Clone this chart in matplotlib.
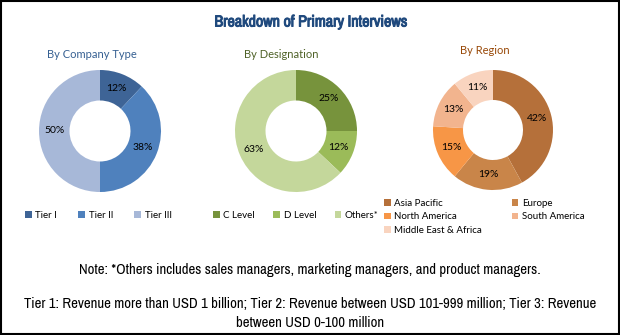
import matplotlib.pyplot as plt
import matplotlib.patheffects as pe
from matplotlib import font_manager
from matplotlib.patches import Patch, Rectangle

# data
company_labels = ['Tier I', 'Tier II', 'Tier III']
company_values = [12, 38, 50]
company_colors = ['#3E6496', '#4F81BD', '#A7B8D8']

designation_labels = ['C Level', 'D Level', 'Others*']
designation_values = [25, 12, 63]
designation_colors = ['#77933C', '#9BBB59', '#C4D79B']

region_labels = ['Asia Pacific', 'Europe', 'North America', 'South America', 'Middle East & Africa']
region_values = [42, 19, 15, 13, 11]
region_colors = ['#B5703A', '#C98549', '#F79646', '#F2B48E', '#F9D4BF']

W, H = 620, 335
fig = plt.figure(figsize=(W / 100, H / 100), dpi=100)

# pick a narrow face for the notes if there is one
names = {f.name for f in font_manager.fontManager.ttflist}
narrow_name = None
for n in sorted(names):
    if 'Narrow' in n or 'Condensed' in n:
        narrow_name = n
        break
if narrow_name:
    narrow = [narrow_name, 'DejaVu Sans']
    note_size, title_size = 10.6, 11.5
else:
    narrow = ['Liberation Sans', 'DejaVu Sans']
    note_size, title_size = 8.2, 10
calib = ['Lato', 'DejaVu Sans']


def donut(cx, cy, r, values, colors):
    ax = fig.add_axes([(cx - r) / W, (H - cy - r) / H, 2 * r / W, 2 * r / H])
    ax.pie(values, colors=colors, startangle=90, counterclock=False,
           radius=1, wedgeprops=dict(width=0.5, linewidth=0),
           autopct='%d%%', pctdistance=0.75,
           textprops=dict(fontsize=7.5, color='black', family=calib))
    ax.set_xlim(-1, 1)
    ax.set_ylim(-1, 1)
    ax.set_aspect('equal')
    ax.axis('off')
    return ax


donut(100, 131, 61, company_values, company_colors)
donut(296, 131, 61, designation_values, designation_colors)
donut(493, 130, 60, region_values, region_colors)

# titles
fig.text(311 / W, 1 - 22 / H, 'Breakdown of Primary Interviews', ha='center', va='center',
         fontsize=title_size, fontweight='bold', color='#1F497D', family=narrow,
         path_effects=[pe.withStroke(linewidth=0.7, foreground='#1F497D')])
fig.text(92 / W, 1 - 55 / H, 'By Company Type', ha='center', va='center',
         fontsize=8, color='#366092', family=calib)
fig.text(281 / W, 1 - 55 / H, 'By Designation', ha='center', va='center',
         fontsize=8, color='#4F6228', family=calib)
fig.text(485 / W, 1 - 51 / H, 'By Region', ha='center', va='center',
         fontsize=8, color='#984807', family=calib)


def legend(labels, colors, x, y, ncol, colsp, order=None):
    handles = [Patch(facecolor=c, edgecolor='none') for c in colors]
    if order:
        handles = [handles[i] for i in order]
        labels = [labels[i] for i in order]
    fig.legend(handles, labels, loc='upper left', bbox_to_anchor=(x / W, 1 - y / H),
               ncol=ncol, frameon=False, prop=dict(family=calib, size=7),
               handlelength=0.7, handleheight=0.7, handletextpad=0.35,
               columnspacing=colsp, labelspacing=0.45, borderpad=0, borderaxespad=0)


legend(company_labels, company_colors, 25, 211, 3, 2.2)
legend(designation_labels, designation_colors, 213, 211, 3, 1.9)
legend(region_labels, region_colors, 384, 199, 2, 3.05, order=[0, 2, 4, 1, 3])

# notes
fig.text(310 / W, 1 - 270 / H,
         'Note: *Others includes sales managers, marketing managers, and product managers.',
         ha='center', va='center', fontsize=note_size, family=narrow)
fig.text(310 / W, 1 - 304 / H,
         'Tier 1: Revenue more than USD 1 billion; Tier 2: Revenue between USD 101-999 million; Tier 3: Revenue',
         ha='center', va='center', fontsize=note_size, family=narrow)
fig.text(310 / W, 1 - 323 / H, 'between USD 0-100 million',
         ha='center', va='center', fontsize=note_size, family=narrow)

# border
fig.patches.append(Rectangle((0.001, 0.002), 0.997, 0.995, transform=fig.transFigure,
                             fill=False, edgecolor='black', linewidth=1.5))

fig.savefig('out.png', dpi=100)
